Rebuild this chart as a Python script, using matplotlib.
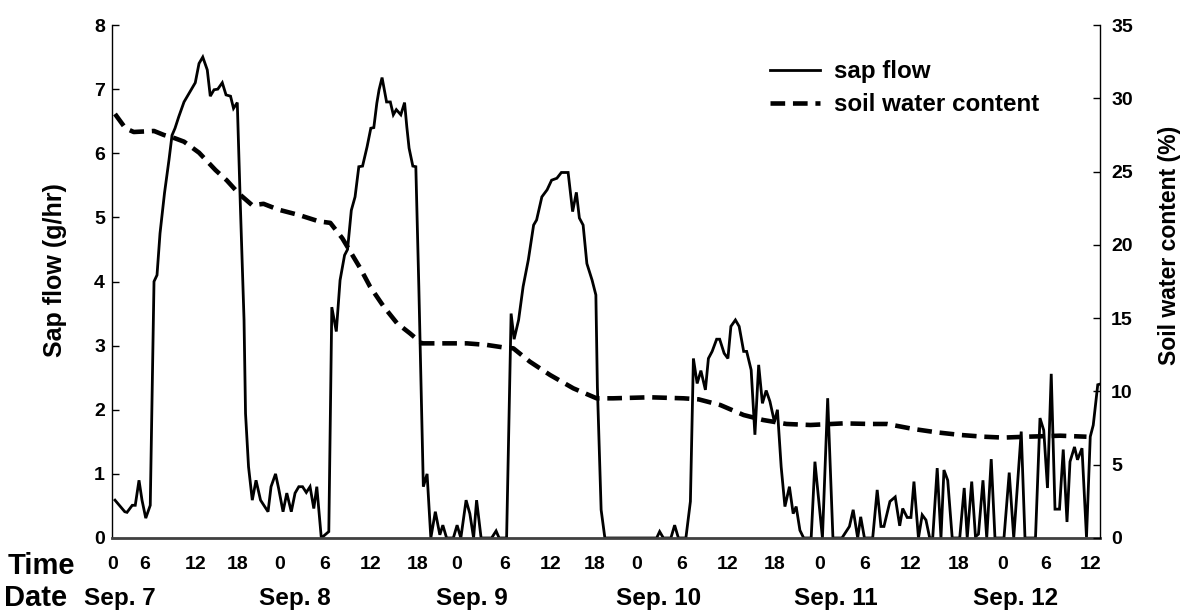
import matplotlib
matplotlib.use('Agg')
import matplotlib.pyplot as plt
from matplotlib.lines import Line2D

# hours counted from Sep. 7 0:00
sap_hours = [2.4, 3.7, 4.0, 4.7, 5.1, 5.6, 6.0, 6.5, 7.1, 7.6, 8.0, 8.4, 9.0, 9.6, 10.0,
             10.4, 10.9, 11.6, 12.4, 13.1, 13.6, 14.1, 14.7, 15.1, 15.6, 16.1, 16.7, 17.2,
             17.8, 18.2, 18.7, 19.1, 19.6, 19.8, 20.2, 20.7, 21.2, 21.8, 22.8, 23.2, 23.8,
             24.2, 24.8, 25.3, 25.9, 26.4, 26.9, 27.4, 27.9, 28.4, 28.9, 29.3, 29.9, 30.2,
             30.9, 31.3, 31.9, 32.4, 33.0, 33.4, 33.9, 34.4, 34.9, 35.4, 36.0, 36.5, 36.9,
             37.3, 37.6, 38.0, 38.3, 38.6, 39.1, 39.5, 39.9, 40.5, 41.0, 41.3, 41.6, 42.1,
             42.5, 42.9, 43.5, 44.0, 44.5, 45.1, 45.7, 46.1, 46.6, 47.5, 48.0, 48.5, 49.2,
             49.7, 50.2, 50.6, 51.2, 52.6, 53.2, 53.6, 54.6, 55.2, 55.6, 56.2, 56.8, 57.5,
             58.2, 58.6, 59.3, 60.0, 60.6, 61.3, 61.9, 62.8, 63.4, 63.9, 64.3, 64.8, 65.3,
             66.0, 66.5, 66.7, 67.2, 67.7, 74.6, 75.0, 75.5, 76.5, 77.0, 77.5, 78.5, 79.1,
             79.5, 80.0, 80.5, 81.1, 81.5, 82.0, 82.6, 83.0, 83.6, 84.1, 84.5, 85.1, 85.6,
             86.2, 86.6, 87.2, 87.7, 88.2, 88.7, 89.2, 89.7, 90.3, 90.7, 91.2, 91.7, 92.3,
             92.8, 93.2, 93.7, 94.2, 95.2, 95.7, 96.7, 97.4, 98.1, 99.3, 100.3, 100.8,
             101.4, 101.8, 102.3, 103.4, 104.0, 104.5, 104.9, 105.7, 106.4, 107.0, 107.4,
             108.0, 108.5, 108.9, 109.5, 110.0, 110.5, 111.0, 111.4, 112.0, 112.5, 112.9,
             113.4, 114.0, 115.0, 115.6, 116.0, 116.6, 117.1, 117.5, 118.1, 118.6, 119.2,
             119.7, 120.9, 121.6, 122.2, 123.2, 123.7, 125.1, 125.7, 126.2, 126.7, 127.2,
             127.7, 128.3, 128.8, 129.3, 129.7, 130.3, 130.7, 131.3, 131.9, 132.4, 132.8,
             133.4, 133.7]
sap_flow = [0.59, 0.41, 0.40, 0.51, 0.51, 0.90, 0.59, 0.31, 0.51, 4.00, 4.10, 4.75, 5.38,
            5.90, 6.28, 6.39, 6.57, 6.80, 6.96, 7.10, 7.40, 7.50, 7.30, 6.89, 6.99, 7.00,
            7.10, 6.91, 6.89, 6.70, 6.79, 5.22, 3.40, 1.94, 1.11, 0.59, 0.90, 0.59, 0.41,
            0.80, 1.00, 0.78, 0.41, 0.70, 0.41, 0.70, 0.80, 0.80, 0.71, 0.80, 0.46, 0.80,
            0.00, 0.03, 0.10, 3.60, 3.22, 4.02, 4.41, 4.50, 5.11, 5.32, 5.79, 5.80, 6.10,
            6.39, 6.40, 6.78, 6.99, 7.18, 6.99, 6.80, 6.80, 6.60, 6.68, 6.60, 6.79, 6.41,
            6.08, 5.80, 5.79, 3.92, 0.80, 1.00, 0.00, 0.41, 0.05, 0.20, 0.00, 0.00, 0.20,
            0.00, 0.59, 0.38, 0.00, 0.59, 0.00, 0.00, 0.11, 0.00, 0.00, 3.50, 3.10, 3.40,
            3.92, 4.34, 4.88, 4.96, 5.32, 5.43, 5.58, 5.61, 5.70, 5.70, 5.09, 5.39, 4.99,
            4.88, 4.28, 4.02, 3.79, 2.36, 0.44, 0.00, 0.00, 0.10, 0.00, 0.00, 0.20, 0.00,
            0.00, 0.57, 2.80, 2.41, 2.61, 2.31, 2.80, 2.91, 3.10, 3.10, 2.88, 2.80, 3.30,
            3.40, 3.30, 2.91, 2.91, 2.62, 1.61, 2.70, 2.10, 2.30, 2.13, 1.81, 2.00, 1.11,
            0.49, 0.80, 0.38, 0.49, 0.12, 0.00, 0.00, 1.19, 0.00, 2.18, 0.00, 0.00, 0.18,
            0.44, 0.00, 0.33, 0.00, 0.00, 0.75, 0.18, 0.18, 0.57, 0.64, 0.19, 0.46, 0.32,
            0.32, 0.88, 0.00, 0.36, 0.28, 0.00, 0.00, 1.09, 0.00, 1.06, 0.90, 0.00, 0.00,
            0.78, 0.00, 0.88, 0.02, 0.06, 0.90, 0.00, 1.23, 0.00, 0.00, 1.02, 0.00, 1.66,
            0.00, 0.00, 1.87, 1.68, 0.78, 2.56, 0.45, 0.45, 1.38, 0.25, 1.19, 1.42, 1.22,
            1.40, 0.01, 1.58, 1.76, 2.39, 2.40]

swc_hours = [2.4, 3.8, 4.9, 7.6, 8.9, 10.4, 11.6, 13.6, 15.8, 17.3, 18.9, 20.7, 22.2, 24.2,
             26.9, 29.6, 31.1, 32.7, 35.1, 36.4, 38.2, 40.0, 41.7, 43.3, 46.2, 49.3, 52.0,
             54.2, 55.5, 57.7, 60.4, 63.5, 66.6, 68.8, 73.7, 78.2, 80.2, 83.1, 86.2, 88.8,
             91.9, 95.1, 99.5, 103.1, 105.3, 108.8, 111.9, 115.1, 118.2, 120.8, 123.9,
             128.4, 131.9]
swc = [28.93, 27.95, 27.70, 27.77, 27.50, 27.27, 27.04, 26.29, 25.10, 24.40, 23.50, 22.70,
       22.80, 22.40, 22.04, 21.60, 21.50, 20.45, 18.40, 17.15, 15.80, 14.65, 13.97, 13.28,
       13.28, 13.28, 13.17, 13.00, 12.94, 12.03, 11.12, 10.21, 9.53, 9.53, 9.60, 9.53, 9.46,
       9.07, 8.39, 8.05, 7.78, 7.71, 7.82, 7.78, 7.78, 7.44, 7.21, 7.03, 6.91, 6.85, 6.91,
       6.98, 6.91]

time_ticks = [2.1, 6.4, 13.1, 18.7, 24.3, 30.4, 36.4, 42.7, 48.0, 54.4, 60.5, 66.4, 71.9,
              77.9, 84.1, 90.3, 96.3, 102.3, 108.5, 114.9, 120.7, 126.5, 132.4]
time_labels = ['0', '6', '12', '18'] * 5 + ['0', '6', '12']
date_pos = [3.1, 26.4, 50.0, 74.8, 98.5, 122.5]
date_labels = ['Sep. 7', 'Sep. 8', 'Sep. 9', 'Sep. 10', 'Sep. 11', 'Sep. 12']

plt.rcParams['font.family'] = ['Liberation Sans', 'DejaVu Sans']
plt.rcParams['font.weight'] = 'bold'

fig = plt.figure(figsize=(11.84, 6.11), dpi=100)
ax = fig.add_axes([112 / 1184, 1 - 538 / 611, 988 / 1184, 513 / 611])
ax2 = ax.twinx()

ax.plot(sap_hours, sap_flow, color='black', lw=2.0, solid_joinstyle='miter')
ax2.plot(swc_hours, swc, color='black', lw=3.3, linestyle=(0, (3.2, 1.7)))

ax.set_xlim(2, 133.7)
ax.set_ylim(0, 8)
ax2.set_ylim(0, 35)
ax.set_yticks(range(0, 9))
ax2.set_yticks(range(0, 36, 5))

ax.set_xticks(time_ticks)
ax.set_xticklabels(time_labels, fontsize=14, fontweight='bold')
ax.tick_params(axis='x', length=0, pad=13)
ax.tick_params(axis='y', direction='in', length=5, width=1, labelsize=14, pad=5)
ax2.tick_params(axis='y', direction='in', length=5, width=1, labelsize=14, pad=8)

for a in (ax, ax2):
    a.spines['top'].set_visible(False)
ax.spines['right'].set_visible(False)
ax2.spines['left'].set_visible(False)
ax2.spines['bottom'].set_visible(False)
ax.spines['bottom'].set_color('#404040')
ax.spines['bottom'].set_linewidth(2)
ax.spines['left'].set_linewidth(1)
ax2.spines['right'].set_linewidth(1)

ax.set_ylabel('Sap flow (g/hr)', fontsize=18, fontweight='bold')
ax.yaxis.set_label_coords(-0.046, 0.522)
ax2.set_ylabel('Soil water content (%)', fontsize=16.6, fontweight='bold', rotation=90)
ax2.yaxis.set_label_coords(1.059, 0.571)

for p, lab in zip(date_pos, date_labels):
    ax.text(p, -0.117, lab, transform=ax.get_xaxis_transform(), ha='center', va='center',
            fontsize=17.5, fontweight='bold')
fig.text(8 / 1184, 1 - 566 / 611, 'Time', ha='left', va='center', fontsize=21, fontweight='bold')
fig.text(4 / 1184, 1 - 598 / 611, 'Date', ha='left', va='center', fontsize=21, fontweight='bold')

handles = [Line2D([], [], color='black', lw=2.0),
           Line2D([], [], color='black', lw=3.3, linestyle=(0, (3.2, 1.7)))]
fig.legend(handles, ['sap flow', 'soil water content'], loc='upper left',
           bbox_to_anchor=(770 / 1184, 1 - 60 / 611), frameon=False, prop={'size': 17.4, 'weight': 'bold'},
           handlelength=2.05, handletextpad=0.6, labelspacing=0.42, borderpad=0, borderaxespad=0)

fig.savefig('out.png', dpi=100)
